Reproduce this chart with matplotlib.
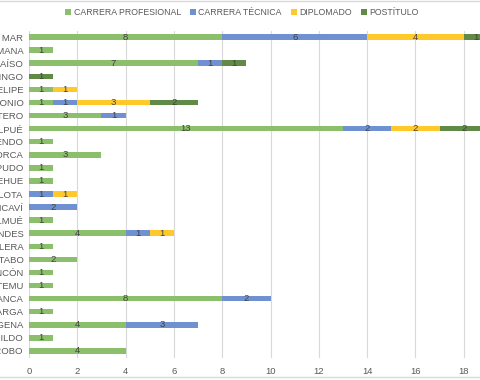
import matplotlib.pyplot as plt
from matplotlib.lines import Line2D
import numpy as np

plt.rcParams['font.family'] = ['Liberation Sans', 'DejaVu Sans']

comunas = ['VIÑA DEL MAR', 'VILLA ALEMANA', 'VALPARAÍSO', 'SANTO DOMINGO', 'SAN FELIPE',
           'SAN ANTONIO', 'QUINTERO', 'QUILPUÉ', 'PUTAENDO', 'PETORCA', 'PAPUDO',
           'PANQUEHUE', 'QUILLOTA', 'PUCHUNCAVÍ', 'OLMUÉ', 'LOS ANDES', 'LA CALERA',
           'EL TABO', 'CONCÓN', 'CATEMU', 'CASABLANCA', 'CALLE LARGA', 'CARTAGENA',
           'CABILDO', 'ALGARROBO']
profesional = [8, 1, 7, 0, 1, 1, 3, 13, 1, 3, 1, 1, 0, 0, 1, 4, 1, 2, 1, 1, 8, 1, 4, 1, 4]
tecnica     = [6, 0, 1, 0, 0, 1, 1, 2, 0, 0, 0, 0, 1, 2, 0, 1, 0, 0, 0, 0, 2, 0, 3, 0, 0]
diplomado   = [4, 0, 0, 0, 1, 3, 0, 2, 0, 0, 0, 0, 1, 0, 0, 1, 0, 0, 0, 0, 0, 0, 0, 0, 0]
postitulo   = [1, 0, 1, 1, 0, 2, 0, 2, 0, 0, 0, 0, 0, 0, 0, 0, 0, 0, 0, 0, 0, 0, 0, 0, 0]
ticks_x = [0, 2, 4, 6, 8, 10, 12, 14, 16, 18]

series = [('CARRERA PROFESIONAL', profesional, '#8cbf6b'),
          ('CARRERA TÉCNICA', tecnica, '#6f91d1'),
          ('DIPLOMADO', diplomado, '#ffc92c'),
          ('POSTÍTULO', postitulo, '#5f8b46')]

fig = plt.figure(figsize=(4.8, 3.8), dpi=100)
ax = fig.add_axes([29 / 480, 22.5 / 380, 483 / 480, 327 / 380])

y = np.arange(len(comunas))
left = np.zeros(len(comunas))
for name, vals, col in series:
    vals = np.array(vals, dtype=float)
    ax.barh(y, vals, left=left, height=0.42, color=col, label=name, zorder=3)
    for i, v in enumerate(vals):
        if v > 0:
            ax.text(left[i] + v / 2, i, '%d' % v, ha='center', va='center',
                    fontsize=6.8, color='#404040', zorder=4)
    left += vals

ax.set_xlim(0, 20)
ax.set_ylim(len(comunas) - 0.5, -0.5)
ax.set_xticks(ticks_x)
ax.set_yticks(y)
ax.set_yticklabels(comunas)
ax.grid(axis='x', color='#d9d9d9', linewidth=0.8, zorder=0)
for s in ax.spines.values():
    s.set_visible(False)
ax.tick_params(axis='both', length=0, labelsize=6.8, labelcolor='#595959')
ax.tick_params(axis='y', pad=4)
ax.tick_params(axis='x', pad=7)

fig.legend(loc='center', bbox_to_anchor=(0.504, 0.966), ncol=4, frameon=False,
           fontsize=6.3, labelcolor='#595959', handlelength=0.7, handleheight=0.7,
           handletextpad=0.3, columnspacing=1.0)

fig.add_artist(Line2D([0, 1], [0.998, 0.998], transform=fig.transFigure, color='#d9d9d9', lw=1))
fig.add_artist(Line2D([0, 1], [0.007, 0.007], transform=fig.transFigure, color='#d9d9d9', lw=1))

fig.savefig('out.png', dpi=100)
